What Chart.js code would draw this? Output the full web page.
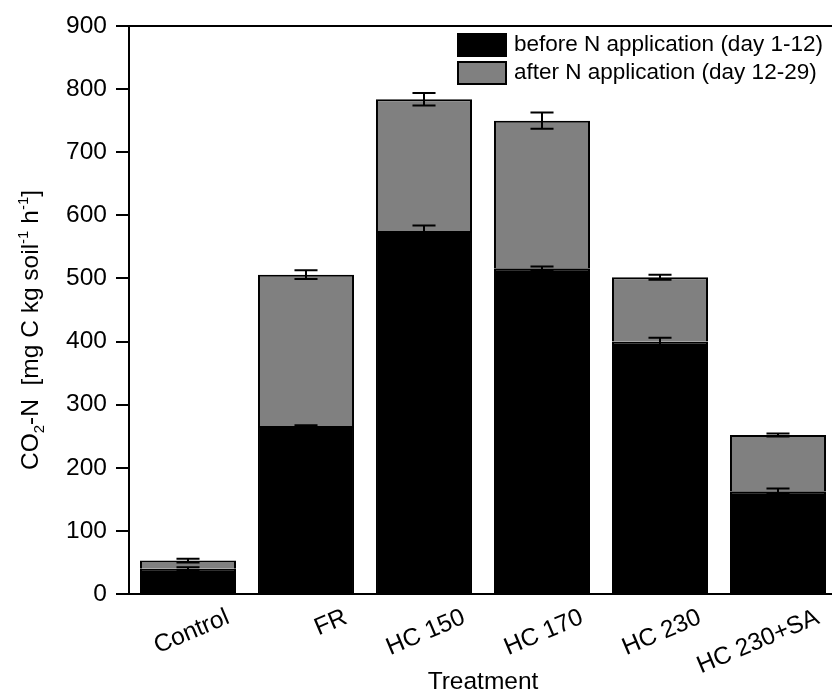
<!DOCTYPE html>
<html>
<head>
<meta charset="utf-8">
<script src="https://cdn.jsdelivr.net/npm/chart.js@4.4.0/dist/chart.umd.min.js"></script>
<style>
  html, body { margin: 0; padding: 0; background: #fff; overflow: hidden; }
</style>
</head>
<body>
<canvas id="chart" width="840" height="692"></canvas>
<script>
const categories = ['Control', 'FR', 'HC 150', 'HC 170', 'HC 230', 'HC 230+SA'];
const beforeN = [40, 266, 575, 516, 400, 163];
const afterN = [13, 240, 209, 234, 102, 89];
const beforeErr = [2.5, 1.5, 9, 3, 6, 4];
const afterErr = [3, 7, 10, 13, 4, 2.5];
const yMin = 0, yMax = 900, yStep = 100;

const fontFamily = "'Liberation Sans', Arial, sans-serif";

// error bars drawn on top of each stacked segment
const errorBars = {
    id: 'errorBars',
    afterDatasetsDraw(chart) {
        const ctx = chart.ctx;
        const y = chart.scales.y;
        const errs = [beforeErr, afterErr];
        ctx.save();
        ctx.strokeStyle = '#000';
        ctx.lineWidth = 2;
        chart.data.datasets.forEach((ds, d) => {
            chart.getDatasetMeta(d).data.forEach((bar, i) => {
                let sum = 0;
                for (let k = 0; k <= d; k++) sum += chart.data.datasets[k].data[i];
                const e = errs[d][i];
                const top = y.getPixelForValue(sum + e);
                const bot = y.getPixelForValue(sum - e);
                const half = bar.width * 0.12;
                ctx.beginPath();
                ctx.moveTo(bar.x, top); ctx.lineTo(bar.x, bot);
                ctx.moveTo(bar.x - half, top); ctx.lineTo(bar.x + half, top);
                ctx.moveTo(bar.x - half, bot); ctx.lineTo(bar.x + half, bot);
                ctx.stroke();
            });
        });
        ctx.restore();
    }
};

// top and right frame lines
const frame = {
    id: 'frame',
    afterDraw(chart) {
        const { ctx, chartArea } = chart;
        ctx.save();
        ctx.strokeStyle = '#000';
        ctx.lineWidth = 2;
        ctx.beginPath();
        ctx.moveTo(chartArea.left, chartArea.top);
        ctx.lineTo(chartArea.right, chartArea.top);
        ctx.lineTo(chartArea.right, chartArea.bottom);
        ctx.stroke();
        ctx.restore();
    }
};

// legend inside the plot, top right
const insideLegend = {
    id: 'insideLegend',
    afterDraw(chart) {
        const { ctx, chartArea } = chart;
        const x0 = chartArea.right - 380;
        let y0 = chartArea.top + 7;
        ctx.save();
        ctx.font = '22.5px ' + fontFamily;
        ctx.textBaseline = 'middle';
        chart.data.datasets.forEach(ds => {
            ctx.fillStyle = ds.backgroundColor;
            ctx.fillRect(x0, y0, 50, 24);
            ctx.lineWidth = 2;
            ctx.strokeStyle = '#000';
            ctx.strokeRect(x0 + 1, y0 + 1, 48, 22);
            ctx.fillStyle = '#000';
            ctx.fillText(ds.label, x0 + 57, y0 + 12);
            y0 += 28;
        });
        ctx.restore();
    }
};

// y title with sub/superscripts
const yTitle = {
    id: 'yTitle',
    afterDraw(chart) {
        const { ctx, chartArea } = chart;
        const parts = [['CO', 0], ['2', -1], ['-N  [mg C kg soil', 0], ['-1', 1], [' h', 0], ['-1', 1], [']', 0]];
        const big = '24.5px ' + fontFamily, small = '15px ' + fontFamily;
        ctx.save();
        let w = 0;
        parts.forEach(p => { ctx.font = p[1] ? small : big; w += ctx.measureText(p[0]).width; });
        ctx.translate(38, (chartArea.top + chartArea.bottom) / 2 + 20);
        ctx.rotate(-Math.PI / 2);
        ctx.fillStyle = '#000';
        ctx.textBaseline = 'alphabetic';
        let x = -w / 2;
        parts.forEach(p => {
            ctx.font = p[1] ? small : big;
            const dy = p[1] === -1 ? 6 : (p[1] === 1 ? -10 : 0);
            ctx.fillText(p[0], x, dy);
            x += ctx.measureText(p[0]).width;
        });
        ctx.restore();
    }
};

const ctx = document.getElementById('chart').getContext('2d');
new Chart(ctx, {
    type: 'bar',
    data: {
        labels: categories,
        datasets: [{
            label: 'before N application (day 1-12)',
            data: beforeN,
            backgroundColor: '#000000',
            borderColor: '#000000',
            borderWidth: 2
        }, {
            label: 'after N application (day 12-29)',
            data: afterN,
            backgroundColor: '#808080',
            borderColor: '#000000',
            borderWidth: 2
        }]
    },
    options: {
        responsive: false,
        animation: false,
        devicePixelRatio: 1,
        categoryPercentage: 1,
        barPercentage: 0.814,
        layout: { padding: { top: 26, right: 3, left: 0, bottom: 0 } },
        plugins: {
            legend: { display: false },
            tooltip: { enabled: false }
        },
        scales: {
            x: {
                stacked: true,
                grid: { display: false, drawTicks: false },
                border: { display: true, color: '#000', width: 2 },
                ticks: {
                    color: '#000',
                    font: { family: fontFamily, size: 24.5 },
                    minRotation: 23,
                    maxRotation: 23,
                    padding: 9,
                    labelOffset: 40,
                    autoSkip: false
                },
                title: {
                    display: true,
                    text: 'Treatment',
                    color: '#000',
                    font: { family: fontFamily, size: 24.5, lineHeight: 1 },
                    padding: { top: 0, bottom: -2 }
                },
                afterFit(scale) { scale.height = 98; }
            },
            y: {
                stacked: true,
                min: yMin,
                max: yMax,
                ticks: {
                    stepSize: yStep,
                    color: '#000',
                    font: { family: fontFamily, size: 24.5 },
                    padding: 9
                },
                grid: { drawOnChartArea: false, drawTicks: true, tickLength: 13, color: '#000', lineWidth: 2 },
                border: { display: true, color: '#000', width: 2 },
                afterFit(scale) { scale.width = 129; }
            }
        }
    },
    plugins: [errorBars, frame, insideLegend, yTitle]
});
</script>
</body>
</html>
